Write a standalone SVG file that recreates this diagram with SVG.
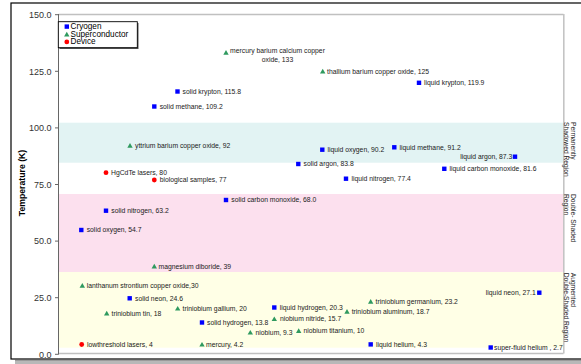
<svg xmlns="http://www.w3.org/2000/svg" xmlns:xlink="http://www.w3.org/1999/xlink" width="581" height="364" viewBox="0 0 581 364">
<style>
.lbl{font-family:"Liberation Sans",Arial,sans-serif;font-size:6.8px;fill:#1a1a1a}
.tick{font-family:"Liberation Sans",Arial,sans-serif;font-size:9px;fill:#333;text-anchor:end}
.reg{font-family:"Liberation Sans",Arial,sans-serif;font-size:6.7px;fill:#222}
.leg{font-family:"Liberation Sans",Arial,sans-serif;font-size:8.2px;fill:#000}
.end{text-anchor:end}
</style>
<defs>
<rect id="sq" x="-2.2" y="-2.2" width="4.4" height="4.4" fill="#0000ff"/>
<path id="tri" d="M0,-2.6 L2.7,2.1 L-2.7,2.1 Z" fill="#2f9a5f"/>
<circle id="dot" r="2.4" fill="#ff0000"/>
</defs>
<rect width="581" height="364" fill="#fff"/>
<!-- frame -->
<rect x="15" y="360" width="570" height="4" fill="#b8b8b8"/>
<line x1="15" y1="360.3" x2="581" y2="360.3" stroke="#8a8a8a" stroke-width="0.8"/>
<rect x="11" y="3" width="580" height="356" fill="none" stroke="#000" stroke-width="1.2"/>
<!-- bands -->
<g id="bands">
<rect x="59" y="122.7" width="504" height="40" fill="#e2f3f3"/>
<rect x="59" y="194" width="504" height="78" fill="#fce0ee"/>
<rect x="59" y="272" width="504" height="75.7" fill="#ffffe6"/>
</g>
<!-- plot border and axis -->
<g id="axes">
<line x1="58.5" y1="14.5" x2="563.5" y2="14.5" stroke="#c0c0c0" stroke-width="1.5"/>
<line x1="563.8" y1="14" x2="563.8" y2="353.5" stroke="#c4c4c4" stroke-width="1.6"/>
<line x1="58.5" y1="353.5" x2="563.5" y2="353.5" stroke="#c0c0c0" stroke-width="1.5"/>
<line x1="58.5" y1="14" x2="58.5" y2="354.5" stroke="#666" stroke-width="1"/>
<g stroke="#666" stroke-width="1">
<line x1="55" y1="14.7" x2="58.5" y2="14.7"/>
<line x1="55" y1="71.3" x2="58.5" y2="71.3"/>
<line x1="55" y1="127.9" x2="58.5" y2="127.9"/>
<line x1="55" y1="184.5" x2="58.5" y2="184.5"/>
<line x1="55" y1="241.1" x2="58.5" y2="241.1"/>
<line x1="55" y1="297.7" x2="58.5" y2="297.7"/>
<line x1="55" y1="354.3" x2="58.5" y2="354.3"/>
</g>
<text class="tick" x="51.5" y="17.9">150.0</text>
<text class="tick" x="51.5" y="74.5">125.0</text>
<text class="tick" x="51.5" y="131.1">100.0</text>
<text class="tick" x="51.5" y="187.7">75.0</text>
<text class="tick" x="51.5" y="244.3">50.0</text>
<text class="tick" x="51.5" y="300.9">25.0</text>
<text class="tick" x="51.5" y="357.5">0.0</text>
<text transform="translate(24.5,183) rotate(-90)" text-anchor="middle" font-family="Liberation Sans, Arial, sans-serif" font-size="8.7" font-weight="bold" fill="#000">Temperature (K)</text>
</g>
<!-- region labels -->
<g id="region-labels">
<text class="reg" transform="translate(570.5,122) rotate(90)"><tspan x="0" y="0">Permanently</tspan><tspan x="0" y="7">Shadowed Region</tspan></text>
<text class="reg" transform="translate(570.5,194) rotate(90)"><tspan x="0" y="0">Double- Shaded</tspan><tspan x="0" y="7">Region</tspan></text>
<text class="reg" transform="translate(570.5,272.7) rotate(90)"><tspan x="0" y="0">Augmented</tspan><tspan x="0" y="7">Double-Shaded Region</tspan></text>
</g>
<!-- legend -->
<g id="legend">
<rect x="59.5" y="23" width="79" height="26" fill="#555"/>
<rect x="58.3" y="21.7" width="79" height="26" fill="#fff" stroke="#000" stroke-width="0.9"/>
<use xlink:href="#sq" x="66.8" y="26.6"/>
<use xlink:href="#tri" x="66.8" y="34.3"/>
<use xlink:href="#dot" x="66.8" y="41.9"/>
<text class="leg" x="70.5" y="29.2">Cryogen</text>
<text class="leg" x="70.5" y="36.8">Superconductor</text>
<text class="leg" x="70.5" y="44.4">Device</text>
</g>
<!-- data points -->
<g id="p-hbcco"><use xlink:href="#tri" x="226" y="52.7"/><text class="lbl" text-anchor="middle"><tspan x="277.5" y="52.5">mercury barium calcium copper</tspan><tspan x="277.5" y="61.5">oxide, 133</tspan></text></g>
<g id="p-tbcco"><use xlink:href="#tri" x="322.7" y="71.3"/><text class="lbl" x="327" y="73.7">thallium barium copper oxide, 125</text></g>
<g id="p-lkr"><use xlink:href="#sq" x="419" y="82.8"/><text class="lbl" x="424" y="85.1">liquid krypton, 119.9</text></g>
<g id="p-skr"><use xlink:href="#sq" x="177.5" y="91.5"/><text class="lbl" x="182.5" y="93.8">solid krypton, 115.8</text></g>
<g id="p-sch4"><use xlink:href="#sq" x="154.3" y="106.5"/><text class="lbl" x="159.7" y="108.8">solid methane, 109.2</text></g>
<g id="p-ybco"><use xlink:href="#tri" x="130" y="145.7"/><text class="lbl" x="135" y="148">yttrium barium copper oxide, 92</text></g>
<g id="p-lo2"><use xlink:href="#sq" x="322.3" y="149.7"/><text class="lbl" x="327.5" y="152">liquid oxygen, 90.2</text></g>
<g id="p-lch4"><use xlink:href="#sq" x="394.3" y="147.3"/><text class="lbl" x="399.5" y="149.6">liquid methane, 91.2</text></g>
<g id="p-lar"><use xlink:href="#sq" x="515" y="156.7"/><text class="lbl end" x="512.3" y="159">liquid argon, 87.3</text></g>
<g id="p-lco"><use xlink:href="#sq" x="444.3" y="168.8"/><text class="lbl" x="449.5" y="171.1">liquid carbon monoxide, 81.6</text></g>
<g id="p-sar"><use xlink:href="#sq" x="298.3" y="164"/><text class="lbl" x="303.5" y="166.3">solid argon, 83.8</text></g>
<g id="p-ln2"><use xlink:href="#sq" x="346" y="178.7"/><text class="lbl" x="351.5" y="181">liquid nitrogen, 77.4</text></g>
<g id="p-hgcdte"><use xlink:href="#dot" x="106" y="172.7"/><text class="lbl" x="111" y="175">HgCdTe lasers, 80</text></g>
<g id="p-bio"><use xlink:href="#dot" x="154.3" y="180"/><text class="lbl" x="159.7" y="182.3">biological samples, 77</text></g>
<g id="p-sco"><use xlink:href="#sq" x="226" y="200"/><text class="lbl" x="231.3" y="202.3">solid carbon monoxide, 68.0</text></g>
<g id="p-sn2"><use xlink:href="#sq" x="106" y="210.7"/><text class="lbl" x="111.3" y="213">solid nitrogen, 63.2</text></g>
<g id="p-so2"><use xlink:href="#sq" x="81.3" y="230"/><text class="lbl" x="86.7" y="232.3">solid oxygen, 54.7</text></g>
<g id="p-mgb2"><use xlink:href="#tri" x="154.3" y="266.3"/><text class="lbl" x="158.5" y="268.6">magnesium diboride, 39</text></g>
<g id="p-lsco"><use xlink:href="#tri" x="82.3" y="285.7"/><text class="lbl" x="86.7" y="288">lanthanum strontium copper oxide,30</text></g>
<g id="p-sne"><use xlink:href="#sq" x="129.7" y="298.3"/><text class="lbl" x="135" y="300.6">solid neon, 24.6</text></g>
<g id="p-nb3sn"><use xlink:href="#tri" x="106.7" y="313.3"/><text class="lbl" x="111.5" y="315.6">triniobium tin, 18</text></g>
<g id="p-nb3ga"><use xlink:href="#tri" x="177.7" y="308.5"/><text class="lbl" x="182.5" y="310.8">triniobium gallium, 20</text></g>
<g id="p-sh2"><use xlink:href="#sq" x="202" y="322.5"/><text class="lbl" x="207" y="324.8">solid hydrogen, 13.8</text></g>
<g id="p-lowlaser"><use xlink:href="#dot" x="81.7" y="344.5"/><text class="lbl" x="87" y="346.8">lowthreshold lasers, 4</text></g>
<g id="p-hg"><use xlink:href="#tri" x="202" y="344.5"/><text class="lbl" x="206" y="346.8">mercury, 4.2</text></g>
<g id="p-lh2"><use xlink:href="#sq" x="274.3" y="307.5"/><text class="lbl" x="279.7" y="309.8">liquid hydrogen, 20.3</text></g>
<g id="p-nbn"><use xlink:href="#tri" x="274.3" y="319"/><text class="lbl" x="280" y="321.3">niobium nitride, 15.7</text></g>
<g id="p-nb"><use xlink:href="#tri" x="250.3" y="332.5"/><text class="lbl" x="255.5" y="334.8">niobium, 9.3</text></g>
<g id="p-nbti"><use xlink:href="#tri" x="298.7" y="330.9"/><text class="lbl" x="303.5" y="333.2">niobium titanium, 10</text></g>
<g id="p-nb3ge"><use xlink:href="#tri" x="370.7" y="301.7"/><text class="lbl" x="375.5" y="304">triniobium germanium, 23.2</text></g>
<g id="p-nb3al"><use xlink:href="#tri" x="347" y="311.7"/><text class="lbl" x="351.7" y="314">triniobium aluminum, 18.7</text></g>
<g id="p-lhe"><use xlink:href="#sq" x="370.7" y="344.4"/><text class="lbl" x="376" y="346.7">liquid helium, 4.3</text></g>
<g id="p-lne"><use xlink:href="#sq" x="539.3" y="292.7"/><text class="lbl end" x="535.7" y="295">liquid neon, 27.1</text></g>
<g id="p-sfhe"><use xlink:href="#sq" x="490.7" y="347.5"/><text class="lbl" x="494" y="349.8">super-fluid helium , 2.7</text></g>
<g id="connectors"/>
</svg>
